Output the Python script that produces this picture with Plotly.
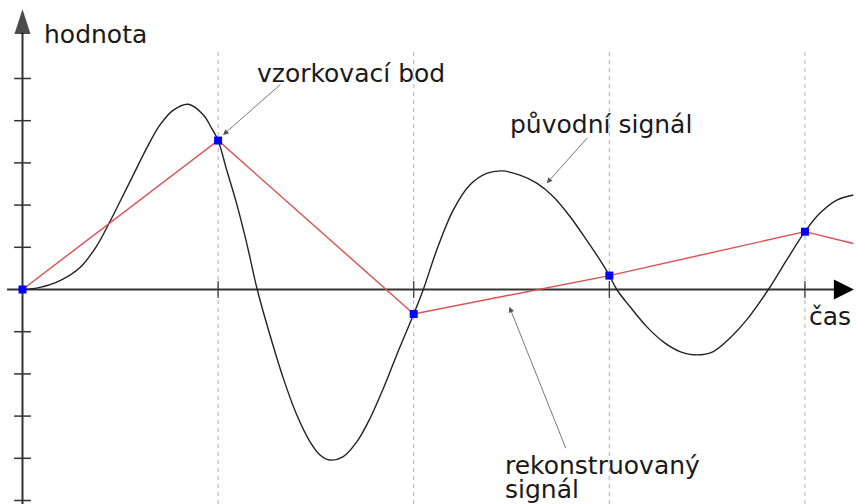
import plotly.graph_objects as go

# sample times and sampled values
sample_t = [0, 1, 2, 3, 4]
sample_v = [0, 3.53, -0.58, 0.33, 1.37]

# reconstructed (linear) signal, continues a bit past the last sample
recon_t = sample_t + [4.247]
recon_v = sample_v + [1.09]

# original signal
signal_t = [0, 0.089, 0.192, 0.294, 0.379, 0.447, 0.498, 0.566, 0.635, 0.703,
            0.771, 0.848, 0.924, 0.967, 1.0, 1.044, 1.095, 1.146, 1.2, 1.265,
            1.333, 1.402, 1.47, 1.521, 1.572, 1.64, 1.709, 1.777, 1.845, 1.913,
            2.0, 2.049, 2.118, 2.202, 2.288, 2.373, 2.45, 2.543, 2.629, 2.714,
            2.799, 2.884, 2.952, 3.0, 3.038, 3.106, 3.191, 3.276, 3.361, 3.447,
            3.532, 3.617, 3.702, 3.813, 3.907, 4.0, 4.077, 4.163, 4.247]
signal_v = [0, 0.05, 0.21, 0.52, 1.03, 1.61, 2.08, 2.71, 3.35, 3.9,
            4.25, 4.39, 4.14, 3.82, 3.53, 2.83, 2.03, 1.1, 0, -1.08,
            -2.1, -2.97, -3.61, -3.92, -4.04, -3.96, -3.61, -3.05, -2.34, -1.55,
            -0.58, 0, 0.94, 1.88, 2.48, 2.75, 2.81, 2.71, 2.52, 2.2,
            1.73, 1.17, 0.7, 0.33, 0, -0.41, -0.88, -1.24, -1.47, -1.55,
            -1.47, -1.15, -0.72, 0, 0.7, 1.37, 1.81, 2.12, 2.24]

y_ticks = [-5, -4, -3, -2, -1, 1, 2, 3, 4, 5]

x_min, x_max = -0.115, 4.261
y_min, y_max = -5.083, 6.86
axis_col = "#333333"
font = "DejaVu Sans"

fig = go.Figure()

# dashed verticals at sampling times
for t in sample_t[1:]:
    fig.add_trace(go.Scatter(
        x=[t, t], y=[y_min, 5.63], mode="lines",
        line={"color": "#b0b0b0", "width": 1, "dash": "4px,4px"},
        hoverinfo="skip",
    ))

# value axis, arrow head points away from the previous point
fig.add_trace(go.Scatter(
    x=[0, 0], y=[y_min - 0.2, 6.64], mode="lines+markers",
    line={"color": axis_col, "width": 2},
    marker={"symbol": ["circle", "arrow"], "size": [0, 26], "angleref": "previous",
            "color": "black", "line": {"width": 0}},
    hoverinfo="skip", cliponaxis=False,
))
# time axis
fig.add_trace(go.Scatter(
    x=[-0.079, 4.2], y=[0, 0], mode="lines",
    line={"color": axis_col, "width": 2}, hoverinfo="skip",
))
# its arrow head: a right-pointing symbol, no rotation needed
fig.add_trace(go.Scatter(
    x=[4.25], y=[0], mode="markers",
    marker={"symbol": "arrow-right", "size": 20, "color": "black",
            "line": {"width": 0}},
    hoverinfo="skip", cliponaxis=False,
))
fig.add_trace(go.Scatter(
    x=[0] * len(y_ticks), y=y_ticks, mode="markers",
    marker={"symbol": "line-ew", "size": 12, "line": {"color": axis_col, "width": 1.5}},
    hoverinfo="skip",
))
fig.add_trace(go.Scatter(
    x=sample_t[1:], y=[0] * 4, mode="markers",
    marker={"symbol": "line-ns", "size": 12, "line": {"color": axis_col, "width": 1.2}},
    hoverinfo="skip",
))

# signals
fig.add_trace(go.Scatter(
    x=signal_t, y=signal_v, mode="lines",
    line={"color": "#222222", "width": 1.4, "shape": "spline", "smoothing": 1},
    name="původní signál",
))
fig.add_trace(go.Scatter(
    x=recon_t, y=recon_v, mode="lines",
    line={"color": "#dd4f4f", "width": 1.4},
    name="rekonstruovaný signál",
))
fig.add_trace(go.Scatter(
    x=sample_t, y=sample_v, mode="markers",
    marker={"symbol": "square", "size": 8, "color": "#0000ff"},
    name="vzorkovací bod", cliponaxis=False,
))

labels = [
    ("hodnota", 0.0997, 6.045),
    ("vzorkovací bod", 1.189, 5.12),
    ("původní signál", 2.482, 3.90),
    ("čas", 4.009, -0.645),
    ("rekonstruovaný", 2.458, -4.175),
    ("signál", 2.458, -4.751),
]
annotations = []
for text, x, y in labels:
    annotations.append(dict(
        text=text, x=x, y=y, xref="x", yref="y", xanchor="left", yanchor="middle",
        showarrow=False, font={"family": font, "size": 25, "color": "#1a1a1a"},
    ))

# pointer arrows: (head x, head y, tail dx px, tail dy px)
pointers = [(1.025, 3.66, 59, -52), (2.680, 2.517, 42, -47), (2.489, -0.408, 57, 143)]
for x, y, ax, ay in pointers:
    annotations.append(dict(
        text="", x=x, y=y, xref="x", yref="y", ax=ax, ay=ay,
        showarrow=True, arrowhead=2, arrowsize=1.4, arrowwidth=0.8,
        arrowcolor="#555555", standoff=0,
    ))

fig.update_layout(
    width=856, height=504,
    margin={"l": 0, "r": 0, "t": 0, "b": 0},
    paper_bgcolor="white", plot_bgcolor="white",
    showlegend=False,
    annotations=annotations,
    xaxis={"range": [x_min, x_max], "visible": False, "fixedrange": True},
    yaxis={"range": [y_min, y_max], "visible": False, "fixedrange": True},
)
# drop the default page margin and scrollbars so the figure fills the window
fig.write_html(
    "out.html", config={"displayModeBar": False},
    post_script="document.body.style.margin='0';"
                "document.body.style.overflow='hidden';"
                "document.documentElement.style.overflow='hidden';",
)
